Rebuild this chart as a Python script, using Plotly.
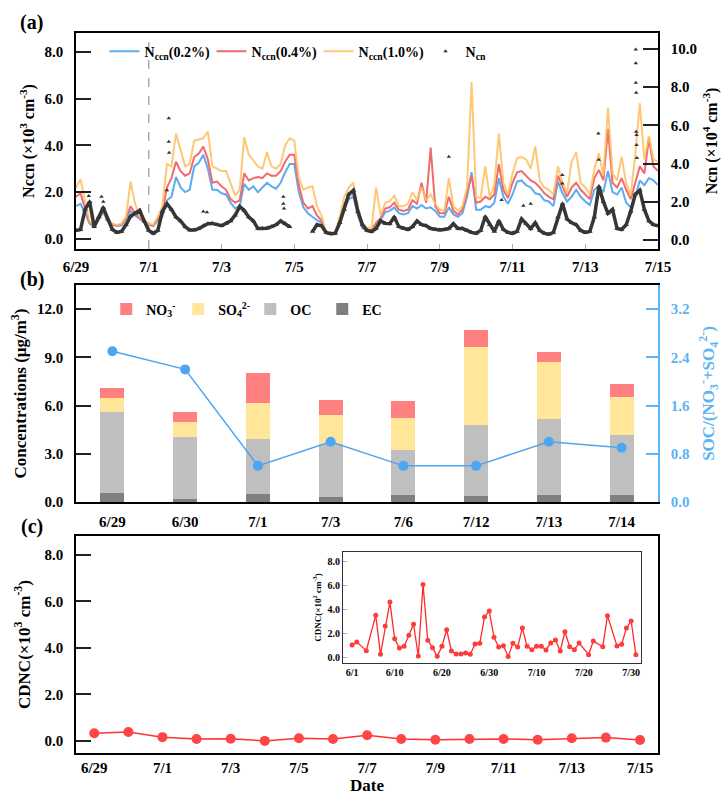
import pandas as pd
import plotly.graph_objects as go

FONT = "Liberation Serif"

# ---------------- Panel (a): 3-hourly readings from 6/29 00:00 ----------------
A_START = "2021-06-29 00:00"
nccn_02 = [1.4, 1.5, 1.1, 0.65, 0.5, 0.85, 1.15, 0.75, 0.6, 0.55, 0.58, 0.85, 1.2, 1.0, 0.85, 0.72,
           0.6, 0.55, 0.8, 0.95, 1.65, 1.8, 2.65, 2.2, 2.0, 2.1, 3.1, 3.25, 3.6, 3.0, 2.1, 2.1,
           1.95, 1.9, 1.55, 1.3, 1.4, 2.35, 2.1, 2.25, 2.0, 2.2, 2.4, 2.25, 2.15, 2.4, 2.85, 3.2,
           3.2, 2.0, 1.35, 1.1, 0.95, 0.8, 0.7, 0.25, 0.2, 0.22, 0.7, 1.3, 1.7, 1.8, 1.0, 0.45,
           0.37, 0.32, 0.6, 0.8, 1.15, 1.2, 1.35, 1.1, 1.05, 1.1, 1.4, 1.3, 1.45, 1.3, 1.35, 1.2,
           0.95, 0.95, 1.35, 1.05, 0.95, 1.1, 1.8, 2.85, 1.25, 1.25, 1.4, 1.35, 1.55, 2.6, 1.8, 1.5,
           1.9, 2.45, 2.5, 2.3, 2.2, 1.95, 1.9, 1.65, 1.6, 1.4, 2.45, 1.95, 1.6, 1.8, 2.1, 1.8,
           1.6, 1.45, 2.1, 2.25, 2.0, 2.9, 2.0, 1.9, 2.2, 1.55, 1.35, 1.8, 2.5, 2.3, 2.6, 2.5, 2.3]
nccn_04 = [1.8, 1.95, 1.3, 0.7, 0.55, 0.9, 1.2, 0.8, 0.62, 0.58, 0.6, 0.9, 1.4, 1.1, 0.9, 0.75,
           0.62, 0.58, 0.85, 1.15, 2.2, 2.6, 3.3, 2.9, 2.7, 2.8, 3.5, 3.65, 3.95, 3.4, 2.4, 2.45,
           2.25, 2.1, 1.7, 1.55, 1.65, 2.8, 2.5, 2.6, 2.65, 2.6, 2.8, 2.7, 2.7, 2.9, 3.3, 3.6,
           3.6, 2.3, 1.55, 1.3, 1.4, 1.0, 0.8, 0.28, 0.2, 0.23, 0.85, 1.5, 1.9, 2.0, 1.1, 0.53,
           0.42, 0.38, 0.7, 0.9, 1.3, 1.35, 1.55, 1.25, 1.2, 1.25, 1.65, 1.5, 2.4, 1.55, 3.9, 1.4,
           1.1, 1.1, 1.8, 1.2, 1.05, 1.25, 2.0, 2.7, 1.55, 1.6, 1.8, 1.7, 1.9, 3.2, 2.1, 1.75,
           2.4, 2.85, 2.9, 2.7, 2.5, 2.4, 2.2, 1.95, 1.8, 1.7, 2.7, 2.25, 1.8, 2.2, 2.4, 2.1,
           1.9, 1.7, 2.6, 2.95, 2.5, 4.7, 2.4, 2.2, 2.6, 2.1, 1.7, 2.4, 3.1, 2.8, 4.3, 3.1, 2.9]
nccn_10 = [2.2, 2.55, 1.6, 0.75, 0.6, 0.95, 1.25, 0.85, 0.65, 0.6, 0.65, 0.95, 2.45, 1.5, 0.95, 0.8,
           0.65, 0.6, 0.95, 1.4, 3.2, 3.1, 4.5, 3.8, 3.1, 3.2, 4.2, 4.25, 4.3, 4.6, 3.1, 3.0,
           2.9, 2.9, 2.4, 1.85, 2.1, 4.35, 3.6, 3.35, 3.1, 3.0, 3.7, 3.1, 3.0, 3.2, 4.0, 4.3,
           4.2, 2.6, 2.1, 2.2, 2.25, 1.4, 1.0, 0.3, 0.22, 0.25, 0.95, 1.8, 2.2, 2.4, 1.2, 0.67,
           0.5, 0.45, 2.2, 1.0, 1.55, 1.6, 1.85, 1.4, 1.4, 1.5, 2.0, 1.65, 2.2, 1.65, 1.9, 1.5,
           1.25, 1.2, 2.6, 1.4, 1.2, 1.4, 2.2, 6.7, 1.8, 1.75, 3.1, 1.8, 2.3, 4.5, 2.4, 1.9,
           2.8, 3.45, 3.5, 3.4, 3.0, 3.95, 2.5, 2.2, 2.1, 1.9, 3.1, 2.4, 1.95, 3.3, 3.7, 2.4,
           2.2, 1.9, 3.0, 3.66, 2.7, 5.6, 2.8, 2.5, 3.5, 2.4, 1.85, 3.6, 5.8, 3.4, 4.4, 3.4, 3.3]
ncn = [0.5, 0.55, 1.6, 2.0, 0.7, 1.2, 1.7, 1.1, 0.55, 0.4, 0.45, 0.8, 1.25, 1.4, 1.55, 1.0,
       0.5, 0.35, 0.5, 1.5, 1.9, 1.6, 1.2, 1.0, 0.7, 0.52, 0.52, 0.6, 0.75, 0.85, 0.87, 0.8,
       0.75, 0.87, 1.0, 1.3, 1.75, 1.55, 1.2, 1.0, 0.6, 0.6, 0.62, 0.7, 0.8, 1.0, 0.85, 0.7,
       None, None, None, None, 0.44, 0.8, 0.75, 0.4, 0.33, 0.35, 0.9, 1.6, 2.4, 2.6, 1.5, 0.8,
       0.5, 0.44, 0.6, 1.0, 0.87, 0.85, 1.2, 0.7, 0.6, 0.55, 0.7, 1.0, 0.8, 0.75, 0.6, 0.55,
       0.52, 0.55, 0.6, 0.85, 0.6, 0.6, 0.5, 0.4, 0.35, 0.5, 1.22, 0.8, 0.45, 1.0, 0.55, 0.4,
       0.35, 0.45, 1.1, 0.85, 0.6, 0.9, 0.5, 0.35, 0.3, 0.4, 1.2, 1.9, 1.1, 0.9, 0.8, 0.5,
       0.4, 0.45, 1.2, 2.8, 2.0, 1.4, 1.6, 0.6, 0.55, 0.8, 1.5, 2.4, 2.6, 1.6, 1.0, 0.8, 0.75]
# scattered high N_cn readings: (days after 6/29 00:00, value)
ncn_spike_day = [0.35, 0.7, 0.75, 2.5, 2.55, 2.55, 2.56, 3.5, 3.6, 5.7, 5.7, 5.72, 10.25, 11.7, 12.3, 12.5,
                 13.37, 13.37, 14.36, 14.37, 15.39, 15.39, 15.39, 15.4, 15.4, 15.41, 15.41, 15.42]
ncn_spike_val = [2.3, 2.27, 2.0, 2.6, 6.37, 5.15, 4.57, 1.5, 1.45, 2.27, 1.9, 1.65, 4.36, 2.1, 1.8, 1.9,
                 3.4, 2.96, 5.58, 4.2, 9.98, 9.25, 8.24, 7.71, 5.67, 5.5, 4.97, 4.3]

date_ticks = ["2021-06-29", "2021-07-01", "2021-07-03", "2021-07-05", "2021-07-07",
              "2021-07-09", "2021-07-11", "2021-07-13", "2021-07-15"]
date_tick_text = ["6/29", "7/1", "7/3", "7/5", "7/7", "7/9", "7/11", "7/13", "7/15"]

# ---------------- Panel (b) ----------------
sample_days = ["6/29", "6/30", "7/1", "7/3", "7/6", "7/12", "7/13", "7/14"]
ec = [0.58, 0.21, 0.52, 0.29, 0.46, 0.39, 0.41, 0.46]
oc = [5.02, 3.82, 3.39, 3.31, 2.79, 4.39, 4.78, 3.70]
so4 = [0.85, 0.96, 2.28, 1.80, 2.00, 4.88, 3.50, 2.40]
no3 = [0.63, 0.60, 1.84, 0.97, 1.04, 1.04, 0.62, 0.81]
soc_ratio = [2.5, 2.2, 0.6, 1.0, 0.6, 0.6, 1.0, 0.9]

# ---------------- Panel (c) ----------------
cdnc_dates = ["2021-06-29", "2021-06-30", "2021-07-01", "2021-07-02", "2021-07-03", "2021-07-04",
              "2021-07-05", "2021-07-06", "2021-07-07", "2021-07-08", "2021-07-09", "2021-07-10",
              "2021-07-11", "2021-07-12", "2021-07-13", "2021-07-14", "2021-07-15"]
cdnc = [0.34, 0.39, 0.17, 0.09, 0.10, 0.01, 0.12, 0.09, 0.25, 0.09, 0.06, 0.09, 0.09, 0.06, 0.12, 0.15, 0.05]

# inset: days after 6/1, CDNC (x10^2 cm^-3)
inset_day = [0, 1, 3, 5, 6, 7, 8, 9, 10, 11, 12, 13, 14, 15, 16, 17, 18, 19, 20, 21, 22, 23, 24, 25,
             26, 27, 28, 29, 30, 31, 32, 33, 34, 35, 36, 37, 38, 39, 40, 41, 42, 43, 44, 45, 46, 47,
             48, 50, 51, 53, 54, 56, 57, 58, 59, 60]
inset_val = [1.03, 1.28, 0.56, 3.51, 0.25, 2.62, 4.62, 1.56, 0.78, 0.92, 1.84, 2.76, 0.11, 6.1, 1.42,
             0.81, 0.08, 0.92, 2.31, 0.53, 0.28, 0.28, 0.36, 0.25, 1.11, 1.17, 3.37, 3.87, 1.67, 0.86,
             0.97, 0.06, 1.17, 0.86, 2.45, 0.92, 0.64, 0.92, 0.92, 0.61, 1.2, 1.45, 0.53, 2.14, 0.89,
             0.64, 1.2, 0.22, 1.36, 0.89, 3.48, 0.95, 1.09, 2.45, 3.04, 0.22]
inset_ticks = ["2021-06-01", "2021-06-10", "2021-06-20", "2021-06-30", "2021-07-10", "2021-07-20", "2021-07-30"]
inset_tick_text = ["6/1", "6/10", "6/20", "6/30", "7/10", "7/20", "7/30"]
inset_shade = ["2021-06-28 12:00", "2021-07-14 12:00"]

# ---------------- derived x values ----------------
times_a = pd.date_range(A_START, periods=len(nccn_02), freq="3h")
spike_times = [pd.Timestamp(A_START) + pd.Timedelta(days=d) for d in ncn_spike_day]
inset_dates = [pd.Timestamp("2021-06-01") + pd.Timedelta(days=d) for d in inset_day]

C_BLUE = "#5CABF3"
C_RED = "#F26B6B"
C_ORANGE = "rgba(255,190,95,0.85)"
C_AXBLUE = "#5AB4F5"

fig = go.Figure()

# panel a
fig.add_trace(go.Scatter(x=times_a, y=nccn_02, mode="lines", line=dict(color=C_BLUE, width=2),
                         name="N<sub>ccn</sub>(0.2%)", xaxis="x", yaxis="y", legend="legend"))
fig.add_trace(go.Scatter(x=times_a, y=nccn_04, mode="lines", line=dict(color=C_RED, width=2),
                         name="N<sub>ccn</sub>(0.4%)", xaxis="x", yaxis="y", legend="legend"))
fig.add_trace(go.Scatter(x=times_a, y=nccn_10, mode="lines", line=dict(color=C_ORANGE, width=2),
                         name="N<sub>ccn</sub>(1.0%)", xaxis="x", yaxis="y", legend="legend"))
fig.add_trace(go.Scatter(x=times_a, y=ncn, mode="lines+markers", connectgaps=False,
                         line=dict(color="#363636", width=3.5),
                         marker=dict(symbol="triangle-up", size=5, color="#363636"),
                         showlegend=False, xaxis="x", yaxis="y2"))
fig.add_trace(go.Scatter(x=spike_times, y=ncn_spike_val, mode="markers",
                         marker=dict(symbol="triangle-up", size=4, color="#333333"),
                         name="N<sub>cn</sub>", xaxis="x", yaxis="y2", legend="legend"))

# panel b
bar_w = 0.33
for vals, nm, col, rank in [(ec, "EC", "#7F7F7F", 4), (oc, "OC", "#BFBFBF", 3),
                            (so4, "SO<sub>4</sub><sup>2-</sup>", "#FFE699", 2),
                            (no3, "NO<sub>3</sub><sup>-</sup>", "#FF8080", 1)]:
    fig.add_trace(go.Bar(x=sample_days, y=vals, name=nm, width=bar_w, marker=dict(color=col, line=dict(width=0)),
                         xaxis="x2", yaxis="y3", legend="legend2", legendrank=rank))
fig.add_trace(go.Scatter(x=sample_days, y=soc_ratio, mode="lines+markers",
                         line=dict(color="#4EA5F2", width=1.5), marker=dict(size=10, color="#4EA5F2"),
                         showlegend=False, xaxis="x2", yaxis="y4"))

# panel c
fig.add_trace(go.Scatter(x=cdnc_dates, y=cdnc, mode="lines+markers",
                         line=dict(color="#FF3030", width=1.5), marker=dict(size=10, color="#FF4545"),
                         showlegend=False, xaxis="x3", yaxis="y5"))
fig.add_trace(go.Scatter(x=inset_dates, y=inset_val, mode="lines+markers",
                         line=dict(color="#FF2A2A", width=1.3), marker=dict(size=5, color="#FF3B3B"),
                         showlegend=False, xaxis="x4", yaxis="y6"))

tick_font = dict(family=FONT, size=15, color="black", weight="bold")
title_font = dict(family=FONT, size=17, color="black", weight="bold")

common_y = dict(showgrid=False, zeroline=False, showline=True, linecolor="black", linewidth=1.5,
                ticks="inside", ticklen=15, tickwidth=1.5, tickcolor="#222", tickformat=".1f",
                tickfont=tick_font, ticklabelstandoff=8)
common_x = dict(showgrid=False, zeroline=False, showline=True, linecolor="black", linewidth=1.5,
                tickfont=tick_font, ticklabelstandoff=5)

fig.update_layout(
    width=721, height=797,
    margin=dict(l=76, r=63, t=33, b=44, autoexpand=False),
    paper_bgcolor="white", plot_bgcolor="white",
    font=dict(family=FONT, color="black"),
    barmode="stack",
    xaxis=dict(common_x, domain=[0, 1], anchor="y", type="date",
               range=["2021-06-29 00:00", "2021-07-15 00:00"], mirror=True,
               tickvals=date_ticks, ticktext=date_tick_text, ticks="inside", ticklen=5, tickcolor="#aaa",
               ticklabelstandoff=3),
    yaxis=dict(common_y, domain=[0.7, 1.0], anchor="x", range=[-0.43, 8.8], dtick=2, tick0=0,
               title=dict(text="Nccn (×10<sup>3</sup> cm<sup>-3</sup>)", font=dict(title_font, size=16), standoff=6)),
    yaxis2=dict(common_y, overlaying="y", side="right", anchor="x", range=[-0.47, 10.84], dtick=2, tick0=0,
                title=dict(text="Ncn (×10<sup>4</sup> cm<sup>-3</sup>)", font=dict(title_font, size=16), standoff=17)),
    xaxis2=dict(common_x, domain=[0, 1], anchor="y3", type="category", range=[-0.5, 7.5], mirror=True, ticks=""),
    yaxis3=dict(common_y, domain=[0.3486, 0.65], anchor="x2", range=[0, 13.5], dtick=3, tick0=0,
                title=dict(text="Concentrations (μg/m<sup>3</sup>)", font=title_font, standoff=6)),
    yaxis4=dict(common_y, overlaying="y3", side="right", anchor="x2", range=[0, 3.6], dtick=0.8, tick0=0,
                linecolor=C_AXBLUE, tickcolor=C_AXBLUE, ticklen=12,
                tickfont=dict(tick_font, color=C_AXBLUE),
                title=dict(text="SOC/(NO<sub>3</sub><sup>-</sup>+SO<sub>4</sub><sup>2-</sup>)",
                           font=dict(title_font, color=C_AXBLUE), standoff=15)),
    xaxis3=dict(common_x, domain=[0, 1], anchor="y5", type="date", mirror=True, ticks="",
                range=["2021-06-28 11:10", "2021-07-15 12:40"],
                tickvals=date_ticks, ticktext=date_tick_text, ticklabelstandoff=0,
                title=dict(text="Date", font=title_font, standoff=4)),
    yaxis5=dict(common_y, domain=[0, 0.3014], anchor="x3", range=[-0.51, 8.8], dtick=2, tick0=0, mirror=True,
                title=dict(text="CDNC(×10<sup>3</sup> cm<sup>-3</sup>)", font=title_font, standoff=10)),
    xaxis4=dict(showgrid=False, zeroline=False, showline=True, linecolor="#333", linewidth=1, mirror=True,
                domain=[0.4588, 0.9708], anchor="y6", type="date",
                range=["2021-05-30 02:00", "2021-08-01 02:00"], ticks="",
                tickvals=inset_ticks, ticktext=inset_tick_text,
                tickfont=dict(family=FONT, size=10, color="black", weight="bold")),
    yaxis6=dict(showgrid=False, zeroline=False, showline=True, linecolor="#333", linewidth=1, mirror=True,
                domain=[0.1254, 0.2788], anchor="x4", range=[-0.45, 8.79], dtick=2, tick0=0, tickformat=".1f",
                ticks="inside", ticklen=4, tickcolor="#aaa",
                tickfont=dict(family=FONT, size=10, color="black", weight="bold"),
                title=dict(text="CDNC(×10<sup>2</sup> cm<sup>-3</sup>)",
                           font=dict(family=FONT, size=9, color="black", weight="bold"), standoff=4)),
    legend=dict(orientation="h", x=0.049, y=0.974, xanchor="left", yanchor="middle",
                bgcolor="rgba(0,0,0,0)", font=dict(family=FONT, size=14, color="black", weight="bold"),
                entrywidth=62, entrywidthmode="pixels", traceorder="normal"),
    legend2=dict(orientation="h", x=0.052, y=0.616, xanchor="left", yanchor="middle",
                 bgcolor="rgba(0,0,0,0)", traceorder="normal",
                 entrywidth=27, entrywidthmode="pixels",
                 font=dict(family=FONT, size=14, color="black", weight="bold")),
    shapes=[
        dict(type="line", xref="x", yref="y domain", x0=date_ticks[1], x1=date_ticks[1], y0=0, y1=1,
             line=dict(color="#aaaaaa", width=1.5, dash="dash"), layer="below"),
        dict(type="rect", xref="x4", yref="y6 domain", x0=inset_shade[0], x1=inset_shade[1], y0=0, y1=1,
             fillcolor="#e8e8e8", line=dict(width=0), layer="below"),
    ],
    annotations=[
        dict(text="<b>(a)</b>", xref="paper", yref="paper", x=-0.076, y=1.014, showarrow=False,
             xanchor="center", yanchor="middle", font=dict(family=FONT, size=20, color="black")),
        dict(text="<b>(b)</b>", xref="paper", yref="paper", x=-0.076, y=0.657, showarrow=False,
             xanchor="center", yanchor="middle", font=dict(family=FONT, size=20, color="black")),
        dict(text="<b>(c)</b>", xref="paper", yref="paper", x=-0.076, y=0.314, showarrow=False,
             xanchor="center", yanchor="middle", font=dict(family=FONT, size=20, color="black")),
    ],
)

fig.write_html("out.html", config={"displayModeBar": False},
               post_script="document.body.style.margin='0px';")
